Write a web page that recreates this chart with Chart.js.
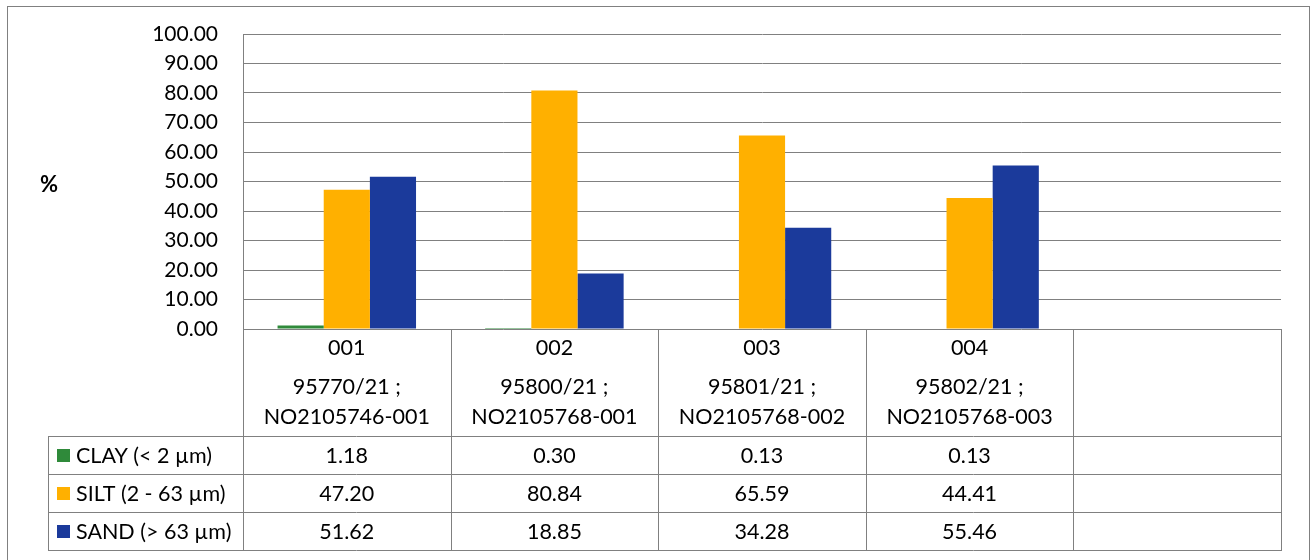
<!DOCTYPE html>
<html>
<head>
<meta charset="utf-8">
<script src="https://cdn.jsdelivr.net/npm/chart.js@4"></script>
<style>
  html, body { margin: 0; padding: 0; background: #fff; }
  #wrap { width: 1311px; height: 560px; position: relative; }
</style>
</head>
<body>
<div id="wrap"><canvas id="chart"></canvas></div>
<script>
// data
const sampleIds = ["001", "002", "003", "004", ""];
const sampleRefs = ["95770/21 ;", "95800/21 ;", "95801/21 ;", "95802/21 ;", ""];
const sampleLabs = ["NO2105746-001", "NO2105768-001", "NO2105768-002", "NO2105768-003", ""];
const seriesNames = ["CLAY (< 2 \u00b5m)", "SILT (2 - 63 \u00b5m)", "SAND (> 63 \u00b5m)"];
const clay = [1.18, 0.30, 0.13, 0.13, null];
const silt = [47.20, 80.84, 65.59, 44.41, null];
const sand = [51.62, 18.85, 34.28, 55.46, null];
const yTicks = [0, 10, 20, 30, 40, 50, 60, 70, 80, 90, 100];

const colors = ["#2f8a3a", "#ffb000", "#1b3a9b"];
const FONT = "Lato, 'Noto Sans', sans-serif";
const LINE = "#808080";

// tableau sous le graphique
const tablePlugin = {
  id: "dataTable",
  afterDraw(chart) {
    const { ctx, chartArea } = chart;
    const x = chart.scales.x;
    const n = sampleIds.length;
    const colW = (x.right - x.left) / n;
    const top = chartArea.bottom;
    const headBottom = top + 107;
    const rowH = 38;
    const tableLeft = 48;
    const rows = [clay, silt, sand];
    const bottom = headBottom + rowH * rows.length;

    ctx.save();
    ctx.strokeStyle = LINE;
    ctx.lineWidth = 1;

    // cadre extérieur
    ctx.strokeRect(7.5, 6.5, 1302, 580);

    ctx.beginPath();
    for (let i = 0; i <= n; i++) {
      const cx = Math.round(x.left + i * colW) + 0.5;
      ctx.moveTo(cx, top);
      ctx.lineTo(cx, bottom);
    }
    ctx.moveTo(tableLeft + 0.5, headBottom);
    ctx.lineTo(tableLeft + 0.5, bottom);
    for (let r = 0; r <= rows.length; r++) {
      const y = Math.round(headBottom + r * rowH) + 0.5;
      ctx.moveTo(tableLeft, y);
      ctx.lineTo(x.right + 1, y);
    }
    ctx.stroke();

    ctx.fillStyle = "#000";
    ctx.textAlign = "center";
    ctx.textBaseline = "middle";
    ctx.font = "21.5px " + FONT;
    for (let i = 0; i < n; i++) {
      const cx = x.getPixelForValue(i);
      ctx.fillText(sampleIds[i], cx, top + 19);
      ctx.fillText(sampleRefs[i], cx, top + 58);
      ctx.fillText(sampleLabs[i], cx, top + 88);
      rows.forEach((vals, r) => {
        if (vals[i] != null) {
          ctx.fillText(vals[i].toFixed(2), cx, headBottom + r * rowH + rowH / 2 + 1);
        }
      });
    }

    // légende dans la table
    ctx.textAlign = "left";
    rows.forEach((vals, r) => {
      const cy = headBottom + r * rowH + rowH / 2;
      ctx.fillStyle = colors[r];
      ctx.fillRect(57, cy - 6, 13, 13);
      ctx.fillStyle = "#000";
      ctx.fillText(seriesNames[r], 76, cy + 1);
    });

    // titre de l'axe
    ctx.font = "bold 22px " + FONT;
    ctx.textAlign = "center";
    ctx.fillText("%", 49, 185);
    ctx.restore();
  }
};

new Chart(document.getElementById("chart"), {
  type: "bar",
  data: {
    labels: sampleIds,
    datasets: [
      { label: seriesNames[0], data: clay, backgroundColor: colors[0] },
      { label: seriesNames[1], data: silt, backgroundColor: colors[1] },
      { label: seriesNames[2], data: sand, backgroundColor: colors[2] },
    ],
  },
  options: {
    responsive: true,
    maintainAspectRatio: false,
    animation: false,
    layout: { padding: { top: 34, right: 30, bottom: 231, left: 0 } },
    plugins: { legend: { display: false }, tooltip: { enabled: false } },
    datasets: { bar: { categoryPercentage: 0.667, barPercentage: 1.0 } },
    scales: {
      x: { display: false },
      y: {
        min: 0,
        max: 100,
        afterFit: (scale) => {
          scale.width = 243;
          scale.paddingTop = 0;
          scale.paddingBottom = 0;
        },
        afterBuildTicks: (scale) => { scale.ticks = yTicks.map(v => ({ value: v })); },
        ticks: {
          padding: 25,
          color: "#000",
          font: { family: FONT, size: 21 },
          callback: (v) => Number(v).toFixed(2),
        },
        grid: { color: LINE, drawTicks: false },
        border: { display: true, color: LINE },
      },
    },
  },
  plugins: [tablePlugin],
});
</script>
</body>
</html>
